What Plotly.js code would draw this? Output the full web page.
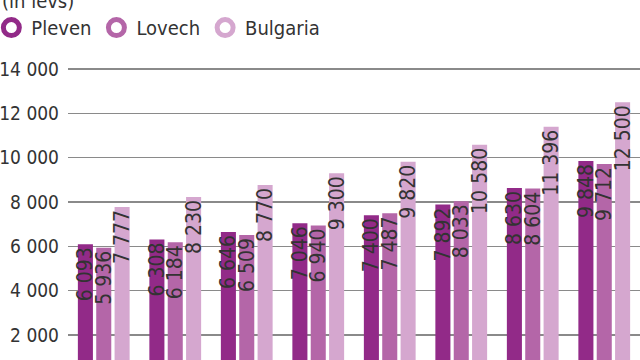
<!DOCTYPE html>
<html>
<head>
<meta charset="utf-8">
<script src="https://cdn.plot.ly/plotly-3.0.1.min.js"></script>
<style>html,body{margin:0;padding:0;background:#fff;}#chart{width:640px;height:360px;}</style>
</head>
<body>
<div id="chart"></div>
<script>
const categories = ["2015", "2016", "2017", "2018", "2019", "2020", "2021", "2022"];
const pleven   = [6093, 6308, 6646, 7046, 7400, 7892, 8630, 9848];
const lovech   = [5936, 6184, 6509, 6940, 7487, 8033, 8604, 9712];
const bulgaria = [7777, 8230, 8770, 9300, 9820, 10580, 11396, 12500];
const seriesNames = ["Pleven", "Lovech", "Bulgaria"];
const seriesColors = ["#922a88", "#b466a8", "#d5a7cf"];
const yTicks = [2000, 4000, 6000, 8000, 10000, 12000, 14000];
const yTickText = ["2 000", "4 000", "6 000", "8 000", "10 000", "12 000", "14 000"];

const FONT = "'DejaVu Sans Condensed', 'DejaVu Sans', sans-serif";
const fmt = v => String(v).replace(/\B(?=(\d{3})+(?!\d))/g, " ");

const allSeries = [pleven, lovech, bulgaria];
const traces = [];
allSeries.forEach((vals, i) => {
  traces.push({
    type: "bar",
    x: categories,
    y: vals,
    name: seriesNames[i],
    marker: {color: seriesColors[i]},
    text: vals.map(fmt),
    textposition: "inside",
    insidetextanchor: "end",
    textangle: -90,
    constraintext: "none",
    insidetextfont: {family: FONT, size: 21, color: "#333333"},
    showlegend: false,
    hoverinfo: "x+y"
  });
});
allSeries.forEach((vals, i) => {
  traces.push({
    type: "scatter",
    mode: "markers",
    x: [null],
    y: [null],
    name: seriesNames[i],
    marker: {symbol: "circle", size: 16, color: "#ffffff", line: {color: seriesColors[i], width: 5}},
    showlegend: true
  });
});

const layout = {
  width: 640,
  height: 360,
  margin: {l: 68, r: 0, t: 60, b: 0, pad: 0, autoexpand: false},
  paper_bgcolor: "#ffffff",
  plot_bgcolor: "#ffffff",
  barmode: "group",
  bargap: 0.23,
  bargroupgap: 0.18,
  font: {family: FONT, color: "#333333"},
  xaxis: {
    type: "category",
    range: [-0.5, 7.5],
    automargin: false,
    showgrid: false,
    zeroline: false,
    showline: false,
    showticklabels: false,
    ticks: ""
  },
  yaxis: {
    range: [872, 14406],
    automargin: false,
    tickvals: yTicks,
    ticktext: yTickText,
    showgrid: true,
    gridcolor: "#8a8a8a",
    gridwidth: 1.5,
    zeroline: false,
    showline: false,
    ticks: "",
    ticklabelstandoff: 8,
    tickfont: {family: FONT, size: 19, color: "#333333"}
  },
  legend: {
    orientation: "h",
    x: -0.134,
    xanchor: "left",
    y: 1.173,
    yanchor: "top",
    font: {family: FONT, size: 20, color: "#333333"},
    bgcolor: "rgba(0,0,0,0)",
    borderwidth: 0,
    itemclick: false
  },
  annotations: [{
    text: "(in levs)",
    xref: "paper", yref: "paper",
    x: -0.119, xanchor: "left",
    y: 1.15, yanchor: "bottom",
    showarrow: false,
    font: {family: FONT, size: 20, color: "#333333"}
  }],
  showlegend: true
};

Plotly.newPlot("chart", traces, layout, {displayModeBar: false, staticPlot: true});
</script>
</body>
</html>
